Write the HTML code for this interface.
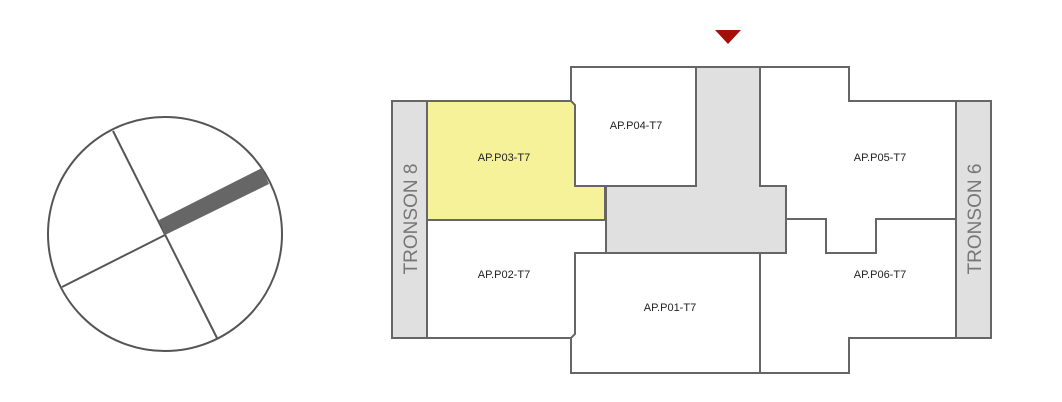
<!DOCTYPE html>
<html><head><style>body{margin:0;background:#fff}svg{display:block}</style></head><body>
<svg width="1062" height="402" viewBox="0 0 1062 402" font-family="Liberation Sans, sans-serif">
<g fill="none" stroke="#555" stroke-width="2">
<circle cx="165" cy="234" r="117" fill="#fff"/>
<line x1="113" y1="131" x2="217" y2="338"/>
<line x1="62" y1="287" x2="165" y2="235"/>
</g>
<polygon points="159,220 262,168 269,184 165,235" fill="#666"/>
<g stroke="#666" stroke-width="2">
<rect x="392" y="101" width="35" height="237" fill="#e0e0e0"/>
<rect x="956" y="101" width="35" height="237" fill="#e0e0e0"/>
<polygon points="427,101 572,101 575,105 575,186 605,186 605,220 427,220" fill="#f5f29a"/>
<polygon points="571,67 696,67 696,186 575,186 575,105 571,101" fill="#fff"/>
<polygon points="696,67 760,67 760,186 786,186 786,253 606,253 606,186 696,186" fill="#e0e0e0"/>
<polygon points="427,220 606,220 606,253 575,253 575,334 572,338 427,338" fill="#fff"/>
<polygon points="575,253 760,253 760,373 571,373 571,338 575,334" fill="#fff"/>
<polygon points="760,67 849,67 849,101 956,101 956,219 876,219 876,253 826,253 826,219 786,219 786,186 760,186" fill="#fff"/>
<polygon points="786,219 826,219 826,253 876,253 876,219 956,219 956,338 849,338 849,373 760,373 760,253 786,253" fill="#fff"/>
</g>
<polygon points="715,30 741,30 728,44" fill="#a50f0a"/>
<g font-size="11" fill="#222" text-anchor="middle">
<text x="504" y="161">AP.P03-T7</text>
<text x="636" y="129">AP.P04-T7</text>
<text x="504" y="278">AP.P02-T7</text>
<text x="670" y="311">AP.P01-T7</text>
<text x="880" y="161">AP.P05-T7</text>
<text x="880" y="278">AP.P06-T7</text>
</g>
<g font-size="19" fill="#777" text-anchor="middle">
<text transform="translate(417,219) rotate(-90)">TRONSON 8</text>
<text transform="translate(981,219) rotate(-90)">TRONSON 6</text>
</g>
</svg>
</body></html>
